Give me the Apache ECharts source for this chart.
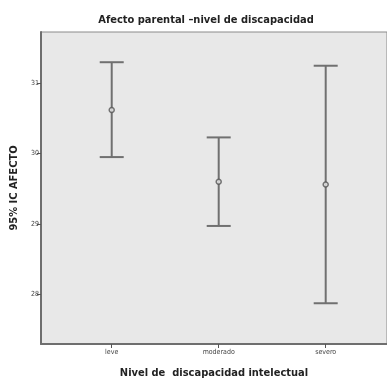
<!DOCTYPE html>
<html>
<head>
<meta charset="utf-8">
<script src="https://cdn.jsdelivr.net/npm/echarts@6/dist/echarts.min.js"></script>
<style>
  html, body { margin: 0; padding: 0; background: #fff; }
  #chart { width: 387px; height: 379px; }
</style>
</head>
<body>
<div id="chart"></div>
<script>
// niveles de discapacidad
var categories = ['leve', 'moderado', 'severo'];
// media e IC 95% de AFECTO
var means = [30.62, 29.60, 29.56];
var lower = [29.95, 28.97, 27.87];
var upper = [31.30, 30.23, 31.25];
var yTicks = [28, 29, 30, 31];

var myChart = echarts.init(document.getElementById('chart'));
var font = '"DejaVu Sans Condensed", "DejaVu Sans", sans-serif';

var barData = categories.map(function (c, i) {
  return [i + 1, lower[i], upper[i]];
});
var meanData = categories.map(function (c, i) {
  return [i + 1, means[i]];
});

var option = {
  animation: false,
  title: {
    text: 'Afecto parental –nivel de discapacidad',
    left: 201,
    textAlign: 'center',
    top: 10,
    textStyle: { fontFamily: font, fontSize: 11, fontWeight: 'bold', color: '#222' }
  },
  grid: {
    left: 41,
    right: 0,
    top: 32,
    bottom: 35,
    outerBoundsMode: 'none',
    containLabel: false,
    show: true,
    backgroundColor: '#e8e8e8',
    borderColor: '#8a8a8a',
    borderWidth: 1
  },
  xAxis: {
    type: 'value',
    min: 0.339,
    max: 3.573,
    name: 'Nivel de  discapacidad intelectual',
    nameLocation: 'middle',
    nameGap: 24,
    nameTextStyle: { fontFamily: font, fontSize: 11, fontWeight: 'bold', color: '#222' },
    axisLine: { show: true, lineStyle: { color: '#6e6e6e', width: 2 } },
    axisTick: { show: true, length: 4, customValues: [1, 2, 3], lineStyle: { color: '#555' } },
    axisLabel: {
      customValues: [1, 2, 3],
      margin: 5,
      fontFamily: font,
      fontSize: 7,
      color: '#444',
      formatter: function (v) { return categories[Math.round(v) - 1]; }
    },
    splitLine: { show: false }
  },
  yAxis: {
    type: 'value',
    min: 27.29,
    max: 31.73,
    name: '95% IC AFECTO',
    nameLocation: 'middle',
    nameRotate: 90,
    nameGap: 16,
    nameTextStyle: { fontFamily: font, fontSize: 11, fontWeight: 'bold', color: '#222' },
    axisLine: { show: true, lineStyle: { color: '#6e6e6e', width: 2 } },
    axisTick: { show: true, length: 4, customValues: yTicks, lineStyle: { color: '#555' } },
    axisLabel: {
      customValues: yTicks,
      margin: 2,
      fontFamily: font,
      fontSize: 7,
      color: '#444'
    },
    splitLine: { show: false }
  },
  series: [
    {
      type: 'custom',
      data: barData,
      renderItem: function (params, api) {
        var x = api.value(0);
        var lo = api.coord([x, api.value(1)]);
        var hi = api.coord([x, api.value(2)]);
        var half = 12;
        var style = { stroke: '#707070', lineWidth: 2 };
        return {
          type: 'group',
          children: [
            { type: 'line', shape: { x1: lo[0], y1: lo[1], x2: hi[0], y2: hi[1] }, style: style },
            { type: 'line', shape: { x1: hi[0] - half, y1: hi[1], x2: hi[0] + half, y2: hi[1] }, style: style },
            { type: 'line', shape: { x1: lo[0] - half, y1: lo[1], x2: lo[0] + half, y2: lo[1] }, style: style }
          ]
        };
      }
    },
    {
      type: 'scatter',
      data: meanData,
      symbol: 'circle',
      symbolSize: 5,
      itemStyle: { color: '#e8e8e8', borderColor: '#555', borderWidth: 1.5 }
    }
  ]
};

myChart.setOption(option);
</script>
</body>
</html>
